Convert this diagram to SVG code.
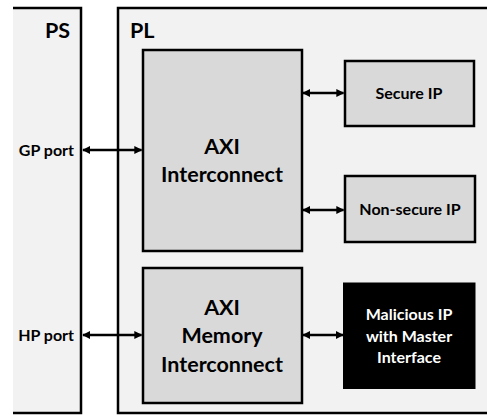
<svg xmlns="http://www.w3.org/2000/svg" width="487" height="416" viewBox="0 0 487 416">
<style>
.region{fill:#f2f2f2;stroke:none}
.edge{fill:none;stroke:#000;stroke-width:2.5}
.box{fill:#d9d9d9;stroke:#000;stroke-width:2.5}
.mal{fill:#000;stroke:#000;stroke-width:1}
text{font-family:Lato,"Liberation Sans",sans-serif;font-weight:bold;fill:#000}
.big{font-size:21.5px;text-anchor:middle}
.title{font-size:21.5px}
.lbl{font-size:16px}
.mid{text-anchor:middle}
.white{fill:#fff}
.conn{stroke:#000;stroke-width:2.5;fill:none;marker-start:url(#ah);marker-end:url(#ah)}
</style>
<defs>
<marker id="ah" viewBox="0 0 10 10" refX="9" refY="5" markerWidth="8" markerHeight="8" markerUnits="userSpaceOnUse" orient="auto-start-reverse">
<path d="M0,0 L10,5 L0,10 z" fill="#000"/>
</marker>
</defs>
<rect width="487" height="416" fill="#fff"/>
<g id="PS">
<rect class="region" x="13" y="7" width="68" height="407"/>
<path class="edge" d="M13,8 H81 V413 H13"/>
<text class="title" x="70" y="38" text-anchor="end">PS</text>
<text class="lbl" x="74" y="156" text-anchor="end">GP port</text>
<text class="lbl" x="74" y="341" text-anchor="end">HP port</text>
</g>
<g id="PL">
<rect class="region" x="118" y="7" width="369" height="407"/>
<path class="edge" d="M487,8 H118 V413 H487"/>
<text class="title" x="130" y="38">PL</text>
</g>
<g id="axi-interconnect">
<rect class="box" x="143" y="50" width="159" height="201"/>
<text class="big" x="222" y="154">AXI</text>
<text class="big" x="222" y="182">Interconnect</text>
</g>
<g id="axi-memory-interconnect">
<rect class="box" x="143" y="268" width="159" height="135"/>
<text class="big" x="222" y="315">AXI</text>
<text class="big" x="222" y="343">Memory</text>
<text class="big" x="222" y="372">Interconnect</text>
</g>
<g id="secure-ip">
<rect class="box" x="345" y="61" width="129" height="65"/>
<text class="lbl mid" x="409" y="99">Secure IP</text>
</g>
<g id="non-secure-ip">
<rect class="box" x="345" y="176" width="130" height="66"/>
<text class="lbl mid" x="410" y="215">Non-secure IP</text>
</g>
<g id="malicious-ip">
<rect class="mal" x="343.5" y="283" width="131.5" height="105.5"/>
<text class="lbl mid white" x="409" y="320">Malicious IP</text>
<text class="lbl mid white" x="409" y="342">with Master</text>
<text class="lbl mid white" x="409" y="363">Interface</text>
</g>
<g id="connectors">
<line class="conn" x1="83" y1="150" x2="141.5" y2="150"/>
<line class="conn" x1="83" y1="335" x2="141.5" y2="335"/>
<line class="conn" x1="303" y1="93" x2="343.5" y2="93"/>
<line class="conn" x1="303" y1="210" x2="343.5" y2="210"/>
<line class="conn" x1="303" y1="335" x2="343" y2="335"/>
</g>
</svg>
